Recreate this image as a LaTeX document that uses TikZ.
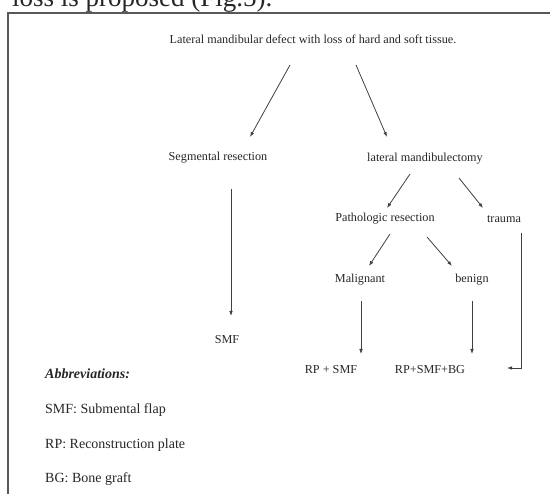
\documentclass[tikz,border=0pt]{standalone}
\usepackage{fontspec}
\setmainfont{Liberation Serif}
\usetikzlibrary{calc, arrows.meta}

\begin{document}
\begin{tikzpicture}[x=1pt, y=-1pt, >={Latex[length=5pt,width=3.6pt]},
        box/.style={inner sep=0pt, text height=8.5pt, text depth=2.5pt, font=\fontsize{12.2}{14}\selectfont, text=black!85},
        abbr/.style={anchor=base west, inner sep=0pt, font=\fontsize{14}{16}\selectfont, text=black!85},
        link/.style={->, draw=black!75, line width=0.8pt}]
        \useasboundingbox (0,0) rectangle (550,494);
        \clip (0,0) rectangle (550,494);

        % page text above the figure frame
        \node[anchor=base west, inner sep=0pt, font=\fontsize{27}{30}\selectfont, text=black!85] (caption) at (12,7) {loss is proposed (Fig.5).};
        \draw[black!65, line width=1.2pt] (8,13) rectangle (570,520);

        \node[box] (defect) at (313,41) {Lateral mandibular defect with loss of hard and soft tissue.};
        \node[box] (seg) at (218,158) {Segmental resection};
        \node[box] (lat) at (425,159) {lateral mandibulectomy};
        \node[box] (path) at (385,219) {Pathologic resection};
        \node[box] (trauma) at (504,220) {trauma};
        \node[box] (malig) at (360,280) {Malignant};
        \node[box] (benign) at (472,280) {benign};
        \node[box] (smf) at (227,341) {SMF};
        \node[box] (rpsmf) at (331,371) {RP + SMF};
        \node[box] (rpsmfbg) at (430,371) {RP+SMF+BG};
        \coordinate (tend) at (507,368);

        \node[abbr] (abbrhead) at (45,379) {\textbf{\textit{Abbreviations:}}};
        \node[abbr] (abbrsmf) at (45,414) {SMF: Submental flap};
        \node[abbr] (abbrrp) at (45,449) {RP: Reconstruction plate};
        \node[abbr] (abbrbg) at (45,483) {BG: Bone graft};

        \draw[link] ($(defect)+(-23,24)$) -- ($(seg)+(32,-21)$);
        \draw[link] ($(defect)+(43,24)$) -- ($(lat)+(-38,-22)$);
        \draw[link] ($(seg)+(13,31)$) -- ($(smf)+(4,-25)$);
        \draw[link] ($(lat)+(-15,15)$) -- ($(path)+(2,-11)$);
        \draw[link] ($(lat)+(34,19)$) -- ($(trauma)+(-21,-12)$);
        \draw[link] ($(path)+(5,15)$) -- ($(malig)+(9,-14)$);
        \draw[link] ($(path)+(42,18)$) -- ($(benign)+(-20,-14)$);
        \draw[link] ($(malig)+(1,21)$) -- ($(rpsmf)+(30,-17)$);
        \draw[link] ($(benign)+(0,21)$) -- ($(rpsmfbg)+(42,-17)$);
        \draw[link] ($(trauma)+(17,13)$) |- (tend);
    \end{tikzpicture}
\end{document}
